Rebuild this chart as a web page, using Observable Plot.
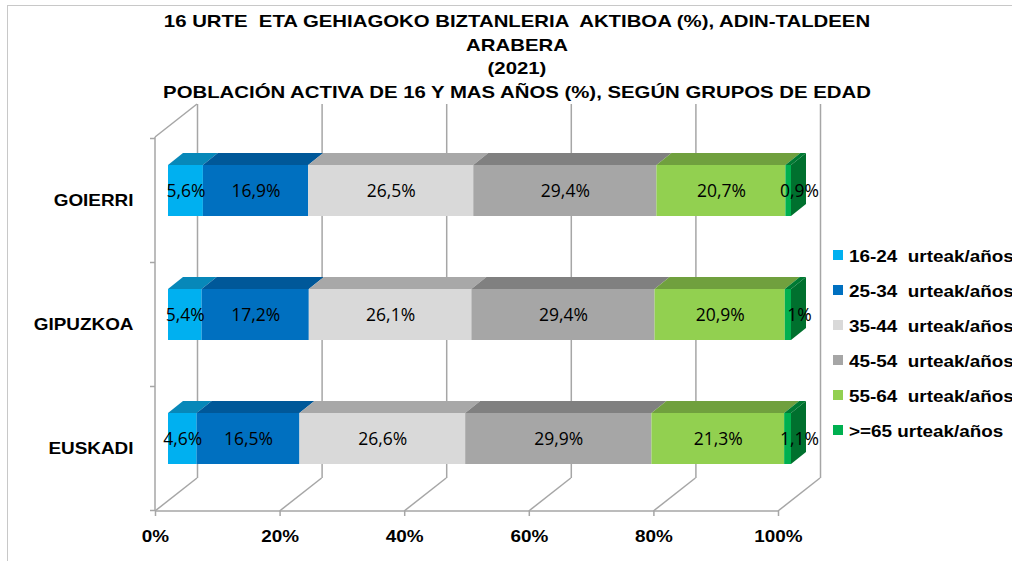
<!DOCTYPE html>
<html>
<head>
<meta charset="utf-8">
<script src="https://cdn.jsdelivr.net/npm/d3@7"></script>
<script src="https://cdn.jsdelivr.net/npm/@observablehq/plot@0.6"></script>
<style>
  html, body { margin: 0; padding: 0; background: #fff; }
  #wrap { position: relative; width: 1012px; height: 561px; overflow: hidden; font-family: "Liberation Sans", Arial, sans-serif; }
  #border { position: absolute; left: 7px; top: 5px; width: 1100px; height: 700px; border: 1px solid #c8c8c8; box-sizing: border-box; }
  #chart { position: absolute; left: 0; top: 0; }
  #title { position: absolute; left: 0; top: 10px; width: 1034px; text-align: center; font-weight: bold; font-size: 16.3px; line-height: 23.5px; color: #000; white-space: pre; transform: scaleX(1.25); transform-origin: 517px 0; }
  #legend { position: absolute; left: 833px; top: 0; }
  .row { position: absolute; left: 0; white-space: pre; }
  .sw { position: absolute; left: 0; width: 10px; height: 10px; }
  .lt { position: absolute; left: 16px; font-weight: bold; font-size: 16.3px; line-height: 20px; color: #000; transform: scaleX(1.16); transform-origin: 0 0; white-space: pre; }
</style>
</head>
<body>
<div id="wrap">
  <div id="border"></div>
  <div id="chart"></div>
  <div id="title"></div>
  <div id="legend"></div>
</div>
<script>
// ---- data ----
const titleLines = [
  "16 URTE  ETA GEHIAGOKO BIZTANLERIA  AKTIBOA (%), ADIN-TALDEEN",
  "ARABERA",
  "(2021)",
  "POBLACIÓN ACTIVA DE 16 Y MAS AÑOS (%), SEGÚN GRUPOS DE EDAD"
];
const regions = ["GOIERRI", "GIPUZKOA", "EUSKADI"];
const groups = ["16-24  urteak/años", "25-34  urteak/años", "35-44  urteak/años", "45-54  urteak/años", "55-64  urteak/años", ">=65 urteak/años"];
const goierri  = [5.6, 16.9, 26.5, 29.4, 20.7, 0.9];
const gipuzkoa = [5.4, 17.2, 26.1, 29.4, 20.9, 1.0];
const euskadi  = [4.6, 16.5, 26.6, 29.9, 21.3, 1.1];
const xTicks = [0, 20, 40, 60, 80, 100];

const frontColors = ["#00B0F0", "#0070C0", "#D9D9D9", "#A6A6A6", "#92D050", "#00B050"];
const topColors   = ["#0788B9", "#005899", "#A8A8A8", "#808080", "#70A03E", "#007A33"];
const sideColor   = "#00702E";
const gridColor   = "#A6A6A6";

// 3D offsets (style)
const barDX = 13, barDY = -10;     // bar front plane
const topDX = 15, topDY = -12;     // bar depth
const wallDX = 42, wallDY = -33;   // back wall

// ---- table built from arrays ----
const series = [goierri, gipuzkoa, euskadi];
const table = [];
regions.forEach((r, i) => {
  let acc = 0;
  series[i].forEach((v, j) => {
    table.push({region: r, group: groups[j], gi: j, value: v, x1: acc, x2: acc + v, last: j === groups.length - 1});
    acc += v;
  });
});
const fmt = v => (Number.isInteger(v) ? String(v) : v.toFixed(1).replace(".", ",")) + "%";

// ---- title ----
document.getElementById("title").textContent = titleLines.join("\n");

// ---- legend ----
const legend = document.getElementById("legend");
groups.forEach((g, i) => {
  const row = document.createElement("div");
  row.className = "row";
  row.style.top = (245.5 + 35 * i) + "px";
  const sw = document.createElement("div");
  sw.className = "sw";
  sw.style.background = frontColors[i];
  sw.style.top = "4.5px";
  const t = document.createElement("div");
  t.className = "lt";
  t.textContent = g;
  row.appendChild(sw);
  row.appendChild(t);
  legend.appendChild(row);
});

// ---- custom 3D pieces drawn with Plot's scales ----
function wallLines(index, scales, values, dim) {
  const {x} = scales;
  const top = dim.marginTop, bottom = dim.height - dim.marginBottom;
  const g = d3.create("svg:g").attr("fill", "none").attr("stroke", gridColor).attr("stroke-width", 1.5);
  g.append("path").attr("d", `M${x(0)},${top}L${x(0) + wallDX},${top + wallDY}`);
  g.append("path").attr("d", `M${x(0)},${top}V${bottom}`);
  g.append("path").attr("d", `M${x(0)},${bottom}H${x(100)}`);
  xTicks.forEach(t => g.append("path").attr("d", `M${x(t)},${bottom}L${x(t) + wallDX},${bottom + wallDY}`));
  const y = scales.y;
  const bw = typeof y.bandwidth === "function" ? y.bandwidth() : y.bandwidth;
  const step = typeof y.step === "function" ? y.step() : y.step;
  const bounds = regions.map(r => y(r) - (step - bw) / 2).concat([y(regions[regions.length - 1]) + bw + (step - bw) / 2]);
  bounds.forEach(b => g.append("path").attr("d", `M${x(0) - 5},${b}H${x(0)}`));
  return g.node();
}

function barFaces(index, scales, values, dim) {
  const {x, y} = scales;
  const bw = typeof y.bandwidth === "function" ? y.bandwidth() : y.bandwidth;
  const g = d3.create("svg:g");
  table.forEach(d => {
    const a = x(d.x1) + barDX, b = x(d.x2) + barDX;
    const yt = y(d.region) + barDY, yb = yt + bw;
    g.append("path")
      .attr("fill", topColors[d.gi])
      .attr("d", `M${a},${yt}L${b},${yt}L${b + topDX},${yt + topDY}L${a + topDX},${yt + topDY}Z`);
    if (d.last) {
      g.append("path")
        .attr("fill", sideColor)
        .attr("d", `M${b},${yt}L${b + topDX},${yt + topDY}L${b + topDX},${yb + topDY}L${b},${yb}Z`);
    }
  });
  return g.node();
}

const plot = Plot.plot({
  width: 1012,
  height: 561,
  marginLeft: 155,
  marginRight: 234,
  marginTop: 137,
  marginBottom: 50,
  style: {background: "transparent", fontFamily: "Liberation Sans, Arial, sans-serif", fontSize: "16.3px", fontWeight: "bold", color: "#000"},
  x: {domain: [0, 100], ticks: xTicks, tickFormat: d => d + "%", tickSize: 5, tickPadding: 14, label: null},
  y: {domain: regions, paddingInner: 0.592, paddingOuter: 0.296, tickSize: 0, tickPadding: 22, label: null},
  color: {domain: groups, range: frontColors},
  marks: [
    Plot.ruleX(xTicks, {x: d => d, dx: wallDX, dy: wallDY, stroke: gridColor, strokeWidth: 1.5}),
    wallLines,
    Plot.barX(table, {x1: "x1", x2: "x2", y: "region", fill: "group", dx: barDX, dy: barDY}),
    barFaces,
    Plot.text(table.filter(d => !d.last), {x: d => (d.x1 + d.x2) / 2, y: "region", text: d => fmt(d.value), dx: barDX, dy: barDY, fontFamily: "Open Sans", fontSize: 17.5, fontWeight: "normal", fill: "#000"}),
    Plot.text(table.filter(d => d.last), {x: "x2", y: "region", text: d => fmt(d.value), dx: barDX + 8, dy: barDY, fontFamily: "Open Sans", fontSize: 17.5, fontWeight: "normal", fill: "#000"})
  ]
});
document.getElementById("chart").appendChild(plot);

// widen the bold axis labels horizontally like the reference
d3.select(plot).selectAll('g[aria-label^="x-axis"] text, g[aria-label^="y-axis"] text').each(function() {
  const t = this.getAttribute("transform") || "";
  this.setAttribute("transform", (t + " scale(1.16,1)").trim());
});
d3.select(plot).selectAll('g[aria-label^="x-axis"] line, g[aria-label^="x-axis"] path').attr("stroke", gridColor).attr("stroke-width", 1.5);
</script>
</body>
</html>
